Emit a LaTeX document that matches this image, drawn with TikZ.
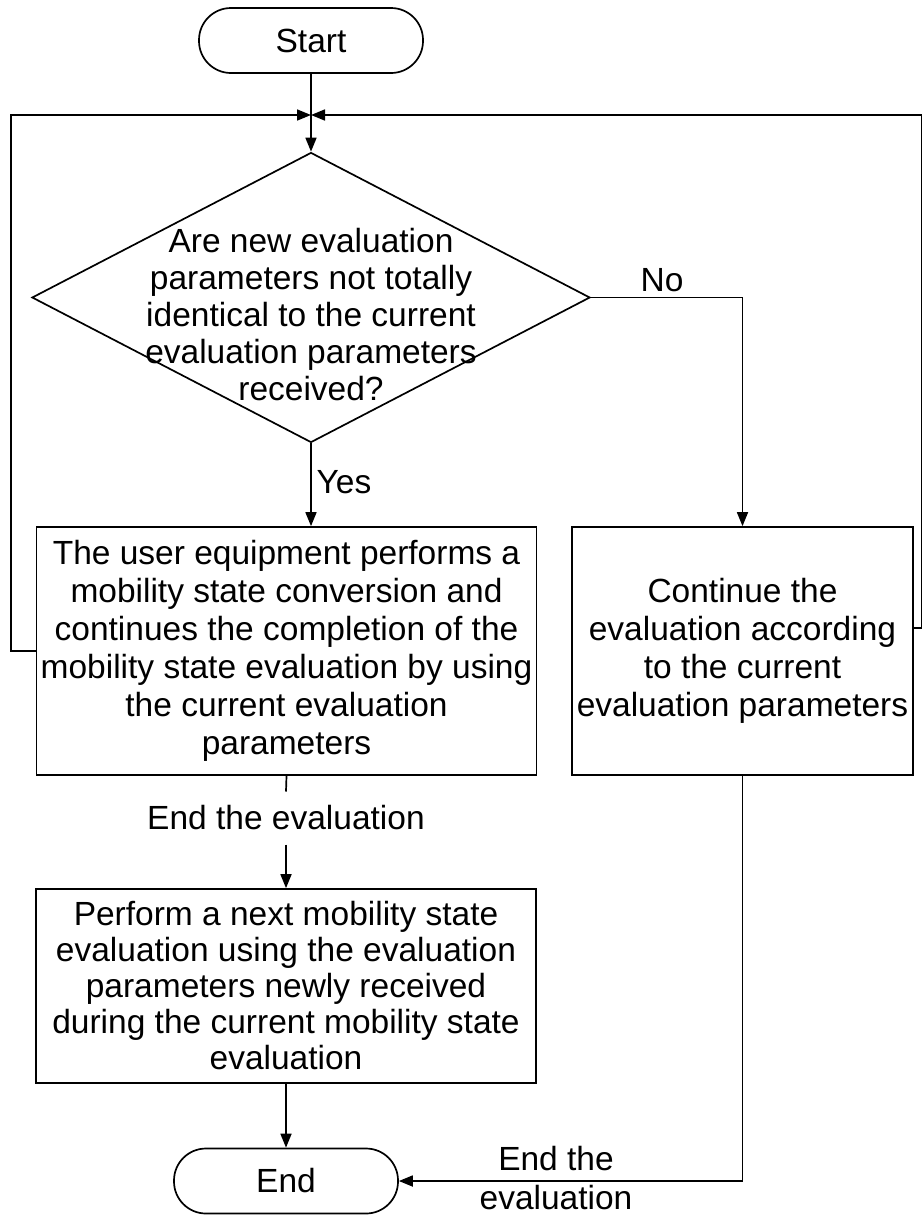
\documentclass[tikz,border=0pt]{standalone}
\usepackage{fontspec}
\setmainfont{Liberation Sans}
\usetikzlibrary{shapes.geometric,arrows.meta}
\begin{document}
\begin{tikzpicture}[x=1pt,y=-1pt,
  every node/.style={font=\fontsize{33.5}{38}\selectfont},
  line/.style={line width=1.7pt},
  arr/.style={line, -{Triangle[length=14pt,width=11pt]}},
  term/.style={draw, line width=1.7pt, rounded corners=32pt, minimum width=224pt,
               minimum height=65pt, inner sep=0pt},
  proc/.style={draw, line width=1.7pt, align=center, inner sep=0pt},
  decision/.style={diamond, draw, line width=1.7pt, inner sep=0pt},
  lbl/.style={inner sep=0pt, align=center}]
\useasboundingbox (0,0) rectangle (924,1216);

% terminals
\node[term] (start) at (311,40.5) {Start};
\node[term] (endn) at (286,1181) {End};

% decision diamond and its text
\node[decision, minimum width=558pt, minimum height=290pt] (dec) at (311,297.5) {};
\node[lbl, font=\fontsize{33.5}{37}\selectfont] (q) at (311,315)
  {Are new evaluation\\parameters not totally\\identical to the current\\evaluation parameters\\received?};

% process boxes
\node[proc, minimum width=500pt, minimum height=248pt] (yes) at (286.5,651)
  {The user equipment performs a\\mobility state conversion and\\continues the completion of the\\mobility state evaluation by using\\the current evaluation\\parameters};
\node[proc, minimum width=341pt, minimum height=248pt] (cont) at (742.5,651)
  {Continue the\\evaluation according\\to the current\\evaluation parameters};
\node[proc, minimum width=500pt, minimum height=194pt, font=\fontsize{33.5}{36}\selectfont] (perf) at (286,986)
  {Perform a next mobility state\\evaluation using the evaluation\\parameters newly received\\during the current mobility state\\evaluation};

% merge point of the loops above the decision
\coordinate (m) at (311,115);
\coordinate (lc) at (11,115);
\coordinate (rc) at (921.5,115);

\draw[line] (start.south) -- (m);
\draw[arr] (m) -- (dec.north);
\draw[arr] (yes.west) -| (lc) -- (m);
\draw[arr] ([yshift=23pt]cont.east) -| (rc) -- (m);

% branches
\draw[arr] (dec.south) -- (dec.south |- yes.north);
\node[lbl] (ylbl) at (344,482) {Yes};
\draw[arr] (dec.east) -| (cont.north);
\node[lbl] (nlbl) at (662,280) {No};

% end of evaluation on the yes side
\node[lbl, inner ysep=14pt] (e1) at (286,818) {End the evaluation};
\draw[line] (yes.south) -- (e1.north);
\draw[arr] (e1.south) -- (perf.north);
\draw[arr] (perf.south) -- (endn.north);

% end of evaluation on the no side
\draw[arr] (cont.south) |- (endn.east);
\node[lbl, font=\fontsize{33.5}{39}\selectfont] (e2) at (556,1178) {End the\\evaluation};
\end{tikzpicture}
\end{document}
